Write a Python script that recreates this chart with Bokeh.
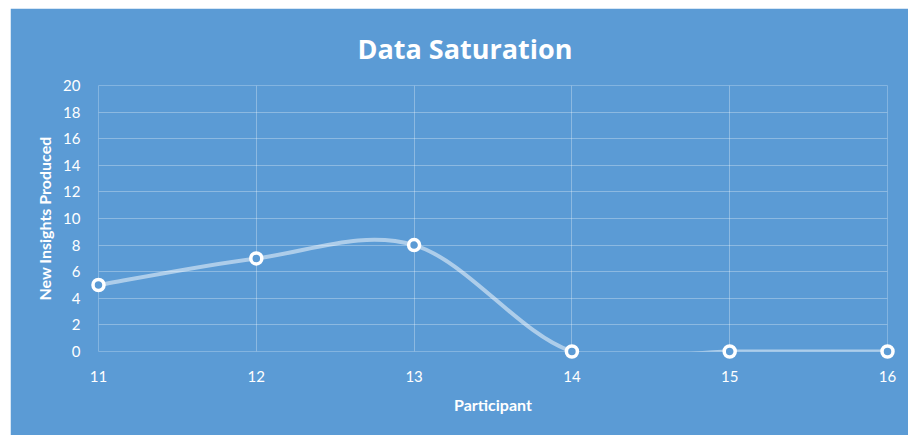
import numpy as np
from bokeh.plotting import figure
from bokeh.models import Range1d, FixedTicker
from bokeh.embed import file_html
from bokeh.resources import INLINE

# ---- data ----
participants = [11, 12, 13, 14, 15, 16]
new_insights = [5, 7, 8, 0, 0, 0]
y_ticks = [0, 2, 4, 6, 8, 10, 12, 14, 16, 18, 20]
title_text = "Data Saturation"
x_label = "Participant"
y_label = "New Insights Produced"

BG = "#5B9BD5"
FONT = "Lato"

p = figure(width=898, height=427, output_backend="svg", toolbar_location=None,
           margin=(8, 0, 0, 10),
           x_range=Range1d(11, 16), y_range=Range1d(0, 20),
           min_border_left=88, min_border_right=21, min_border_top=77, min_border_bottom=84,
           background_fill_color=BG, border_fill_color=BG, outline_line_color=None)

# title
p.title.text = title_text
p.title.align = "left"
p.title.offset = 259
p.title.standoff = 38
p.title.text_color = "white"
p.title.text_font = "Open Sans"
p.title.text_font_style = "bold"
p.title.text_font_size = "27px"

# grid
p.xgrid.ticker = FixedTicker(ticks=participants)
p.ygrid.ticker = FixedTicker(ticks=y_ticks)
for g in (p.xgrid, p.ygrid):
    g.grid_line_color = "white"
    g.grid_line_alpha = 0.3
    g.grid_line_width = 1

# axes
p.xaxis.ticker = FixedTicker(ticks=participants)
p.yaxis.ticker = FixedTicker(ticks=y_ticks)
for ax in (p.xaxis, p.yaxis):
    ax.axis_line_color = None
    ax.major_tick_line_color = None
    ax.minor_tick_line_color = None
    ax.major_label_text_color = "white"
    ax.major_label_text_font = FONT
    ax.major_label_text_font_size = "15px"
    ax.axis_label_text_color = "white"
    ax.axis_label_text_font = FONT
    ax.axis_label_text_font_style = "bold"
    ax.axis_label_text_font_size = "16px"
p.xaxis.axis_label = x_label
p.yaxis.axis_label = y_label
p.xaxis.major_label_standoff = 13
p.yaxis.major_label_standoff = 12
p.xaxis.axis_label_standoff = 10
p.yaxis.axis_label_standoff = 6

# smoothed line (Excel-style cubic Bezier through the points)
xs = np.array(participants, dtype=float)
ys = np.array(new_insights, dtype=float)
n = len(xs)
PX = np.concatenate([[xs[0]], xs, [xs[-1]]])
PY = np.concatenate([[ys[0]], ys, [ys[-1]]])
cx0 = PX[1:n] + (PX[2:n + 1] - PX[0:n - 1]) / 6
cy0 = PY[1:n] + (PY[2:n + 1] - PY[0:n - 1]) / 6
cx1 = PX[2:n + 1] - (PX[3:n + 2] - PX[1:n]) / 6
cy1 = PY[2:n + 1] - (PY[3:n + 2] - PY[1:n]) / 6
p.bezier(x0=xs[:-1], y0=ys[:-1], x1=xs[1:], y1=ys[1:],
         cx0=cx0, cy0=cy0, cx1=cx1, cy1=cy1,
         line_color="white", line_alpha=0.5, line_width=4, line_cap="round")

# markers
p.scatter(participants, new_insights, size=11, fill_color=BG, line_color="white",
          line_width=3.5, level="overlay")

open("out.html", "w").write(file_html(p, INLINE))
